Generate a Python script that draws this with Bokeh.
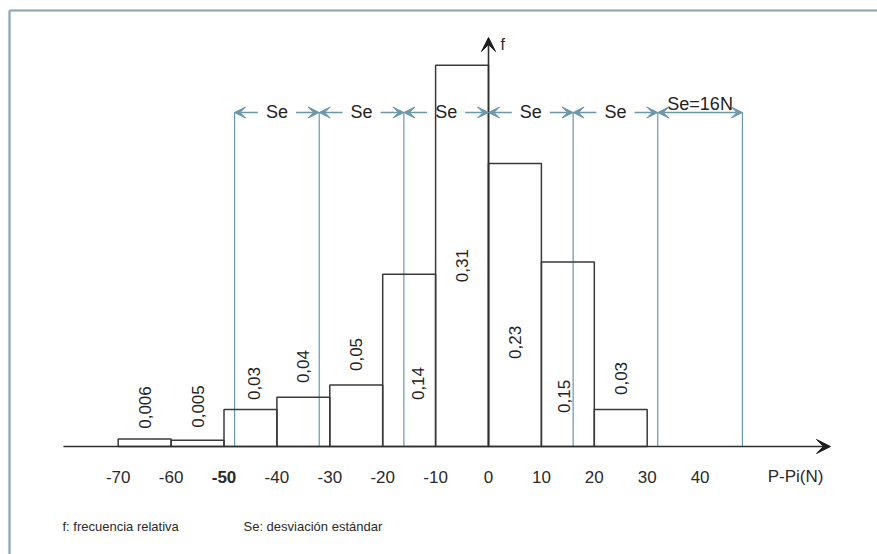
import math
from bokeh.plotting import figure
from bokeh.models import Arrow, VeeHead, Range1d, ColumnDataSource
from bokeh.core.properties import value
from bokeh.embed import file_html
from bokeh.resources import INLINE

# ---------------- data ----------------
bin_left = [-70, -60, -50, -40, -30, -20, -10, 0, 10, 20]
bin_right = [-60, -50, -40, -30, -20, -10, 0, 10, 20, 30]
freq = [0.006, 0.005, 0.03, 0.04, 0.05, 0.14, 0.31, 0.23, 0.15, 0.03]
freq_labels = ["0,006", "0,005", "0,03", "0,04", "0,05", "0,14", "0,31", "0,23", "0,15", "0,03"]
tick_values = [-70, -60, -50, -40, -30, -20, -10, 0, 10, 20, 30, 40]
tick_labels = ["-70", "-60", "-50", "-40", "-30", "-20", "-10", "0", "10", "20", "30", "40"]
se = 16
se_lines = [-48, -32, -16, 16, 32, 48]
se_intervals = [-48, -32, -16, 0, 16]

# layout of the value labels (data units)
label_dx = [0, 0, 0.6, 0, 0, 1.6, 0, 0, -0.8, 0]
label_y = [0.0317, 0.0325, 0.0512, 0.065, 0.0748, 0.0512, 0.147, 0.0846, 0.0407, 0.0553]

# ---------------- geometry ----------------
W, H = 877, 554
OX, OY = 488, 446   # pixel position of the origin
SX = 5.29      # px per unit x
SY = 1230.0    # px per unit y
x_start = -OX / SX
x_end = x_start + W / SX
y_start = -(H - OY) / SY
y_end = OY / SY


def px(xp):
    return (xp - OX) / SX


def py(yp):
    return (OY - yp) / SY


p = figure(width=W, height=H, x_range=Range1d(x_start, x_end),
           y_range=Range1d(y_start, y_end), output_backend="svg",
           toolbar_location=None, min_border=0,
           x_axis_location=None, y_axis_location=None)
p.grid.visible = False
p.outline_line_color = None
p.background_fill_color = "white"
p.border_fill_color = "white"

FONT = value("Liberation Sans")
BORDER = "#86a3b3"
BLUE = "#6b97ab"
DARK = "#2e2e2e"

# frame border (top and left visible)
p.segment(x0=[px(9)], y0=[py(10)], x1=[x_end], y1=[py(10)],
          line_color=BORDER, line_width=2.2)
p.segment(x0=[px(9)], y0=[py(10)], x1=[px(9)], y1=[y_start],
          line_color=BORDER, line_width=2.2)

# se vertical lines
y_arrow = py(112)
p.segment(x0=se_lines, y0=[0] * len(se_lines), x1=se_lines, y1=[y_arrow] * len(se_lines),
          line_color=BLUE, line_width=1.2)

# bars
p.quad(left=bin_left, right=bin_right, top=freq, bottom=[0] * len(freq),
       fill_color=None, line_color="#3a3a3a", line_width=1.5)

# axes arrows
p.add_layout(Arrow(x_start=px(63), y_start=0, x_end=px(830), y_end=0,
                   line_color=DARK, line_width=1.6,
                   end=VeeHead(size=14, fill_color="#1e1e1e", line_color="#1e1e1e")))
p.add_layout(Arrow(x_start=0, y_start=0, x_end=0, y_end=py(37),
                   line_color=DARK, line_width=1.6,
                   end=VeeHead(size=14, fill_color="#1e1e1e", line_color="#1e1e1e")))

# Se arrows
shaft = 4.4
for a in se_intervals:
    p.add_layout(Arrow(x_start=a + shaft, y_start=y_arrow, x_end=a, y_end=y_arrow,
                       line_color=BLUE, line_width=1.6,
                       end=VeeHead(size=11, fill_color=BLUE, line_color=BLUE)))
    p.add_layout(Arrow(x_start=a + se - shaft, y_start=y_arrow, x_end=a + se, y_end=y_arrow,
                       line_color=BLUE, line_width=1.6,
                       end=VeeHead(size=11, fill_color=BLUE, line_color=BLUE)))
p.add_layout(Arrow(x_start=32, y_start=y_arrow, x_end=48, y_end=y_arrow,
                   line_color=BLUE, line_width=1.6,
                   start=VeeHead(size=11, fill_color=BLUE, line_color=BLUE),
                   end=VeeHead(size=11, fill_color=BLUE, line_color=BLUE)))

p.text(x=[a + se / 2 for a in se_intervals], y=[py(111)] * len(se_intervals),
       text=["Se"] * len(se_intervals), text_align="center", text_baseline="alphabetic",
       text_font=FONT, text_font_size="18px", text_color="#222222")
p.text(x=[40], y=[py(103)], text=["Se=16N"], text_align="center",
       text_baseline="alphabetic", text_font=FONT, text_font_size="18px", text_color="#222222")

# value labels
centers = [(l + r) / 2 + d for l, r, d in zip(bin_left, bin_right, label_dx)]
p.text(x=centers, y=label_y, text=freq_labels, angle=math.pi / 2,
       text_align="center", text_baseline="middle",
       text_font=FONT, text_font_size="17px", text_color="#222222")

# tick labels
tick_src = ColumnDataSource(dict(
    x=tick_values, y=[py(476)] * len(tick_values), text=tick_labels,
    style=["bold" if t == "-50" else "normal" for t in tick_labels]))
p.text(x="x", y="y", text="text", source=tick_src, text_align="center",
       text_baseline="middle", text_font=FONT, text_font_size="17px",
       text_font_style="style", text_color="#2a2a2a")
p.text(x=[px(795)], y=[py(476)], text=["P-Pi(N)"],
       text_align="center", text_baseline="middle", text_font=FONT,
       text_font_size="17px", text_color="#2a2a2a")

# f label
p.text(x=[px(500)], y=[py(44)], text=["f"], text_align="left",
       text_baseline="alphabetic", text_font=FONT, text_font_size="16px",
       text_color="#2a2a2a")

# footer
p.text(x=[px(62), px(243)], y=[py(526)] * 2,
       text=["f: frecuencia relativa", "Se: desviación estándar"],
       text_align="left", text_baseline="middle", text_font=FONT,
       text_font_size="13px", text_color="#2a2a2a")

open("out.html", "w").write(file_html(p, INLINE))
